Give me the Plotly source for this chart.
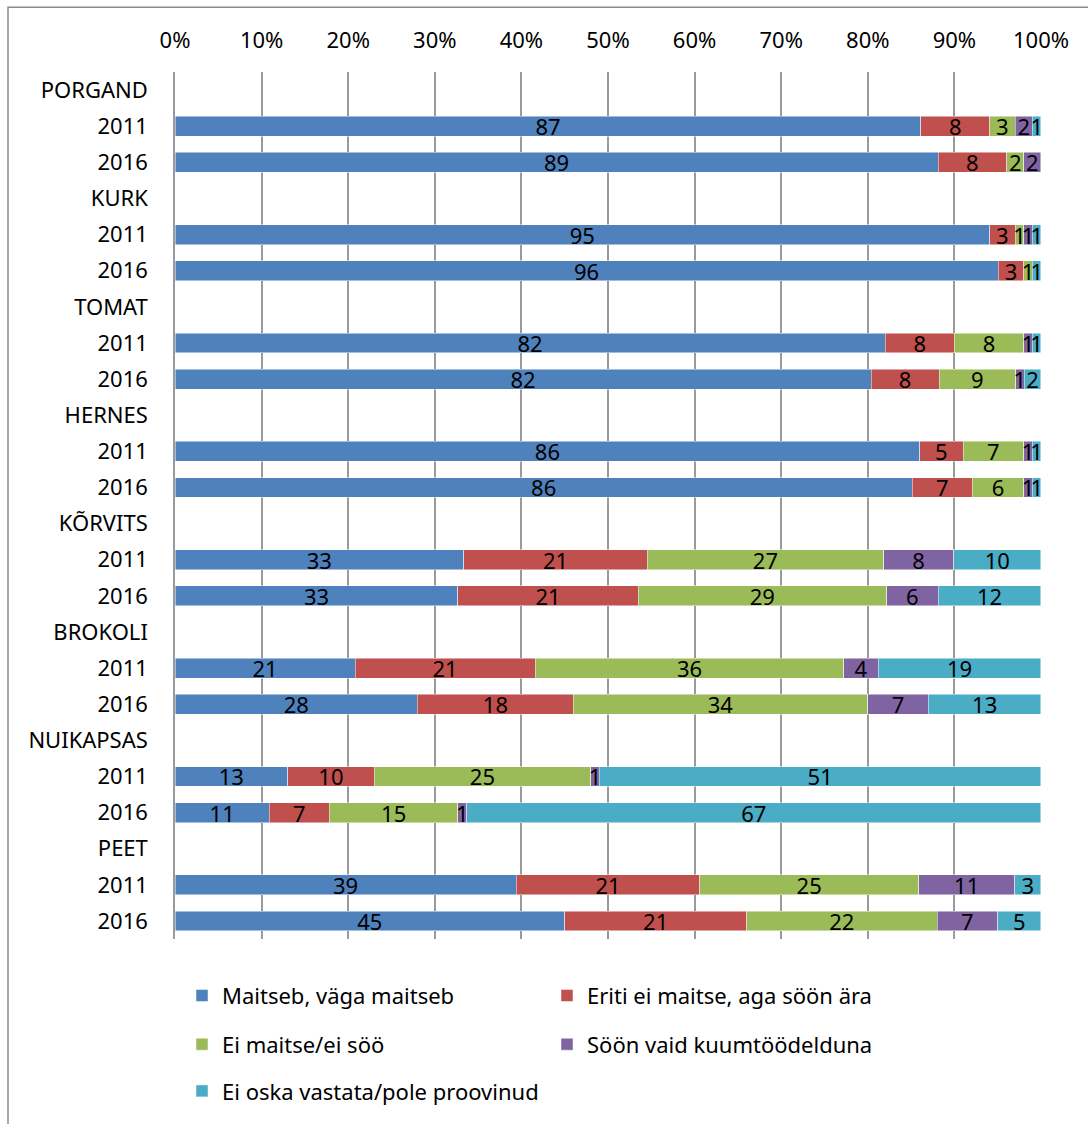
import plotly.graph_objects as go

# Row labels of the category axis (vegetable headings followed by survey years)
row_labels = [
    "PORGAND", "2011", "2016",
    "KURK", "2011", "2016",
    "TOMAT", "2011", "2016",
    "HERNES", "2011", "2016",
    "KÕRVITS", "2011", "2016",
    "BROKOLI", "2011", "2016",
    "NUIKAPSAS", "2011", "2016",
    "PEET", "2011", "2016",
]

series_names = [
    "Maitseb, väga maitseb",
    "Eriti ei maitse, aga söön ära",
    "Ei maitse/ei söö",
    "Söön vaid kuumtöödelduna",
    "Ei oska vastata/pole proovinud",
]

# Shares in percent per row; heading rows carry no values
maitseb = [None, 87, 89, None, 95, 96, None, 82, 82, None, 86, 86,
           None, 33, 33, None, 21, 28, None, 13, 11, None, 39, 45]
eriti_ei = [None, 8, 8, None, 3, 3, None, 8, 8, None, 5, 7,
            None, 21, 21, None, 21, 18, None, 10, 7, None, 21, 21]
ei_maitse = [None, 3, 2, None, 1, 1, None, 8, 9, None, 7, 6,
             None, 27, 29, None, 36, 34, None, 25, 15, None, 25, 22]
kuumtoodeldud = [None, 2, 2, None, 1, None, None, 1, 1, None, 1, 1,
                 None, 8, 6, None, 4, 7, None, 1, 1, None, 11, 7]
ei_oska = [None, 1, None, None, 1, 1, None, 1, 2, None, 1, 1,
           None, 10, 12, None, 19, 13, None, 51, 67, None, 3, 5]

x_ticks = [0, 10, 20, 30, 40, 50, 60, 70, 80, 90, 100]
x_tick_text = [f"{v}%" for v in x_ticks]

colors = ["#4F81BD", "#C0504D", "#9BBB59", "#8064A2", "#4BACC6"]
legend_ids = ["legend", "legend", "legend2", "legend2", "legend3"]

FONT = "Noto Sans"
W, H = 1088, 1124
M_L, M_R, M_T, M_B = 175, 47, 72, 180
PW, PH = W - M_L - M_R, H - M_T - M_B


def px_x(p):
    return (p - M_L) / PW


def px_y(q):
    return (H - M_B - q) / PH


rows = list(range(len(row_labels)))
fig = go.Figure()
for name, vals, col, lg in zip(series_names,
                               [maitseb, eriti_ei, ei_maitse, kuumtoodeldud, ei_oska],
                               colors, legend_ids):
    fig.add_trace(go.Bar(
        name=name,
        y=rows,
        x=vals,
        orientation="h",
        width=0.55,
        marker=dict(color=col, line=dict(color="rgba(255,255,255,0.6)", width=0.8)),
        text=["" if v is None else str(v) for v in vals],
        textposition="inside",
        insidetextanchor="middle",
        textangle=0,
        constraintext="none",
        textfont=dict(family=FONT, size=22, color="black"),
        legend=lg,
        hoverinfo="skip",
        cliponaxis=False,
    ))

legend_common = dict(
    orientation="h",
    xanchor="left",
    yanchor="middle",
    x=px_x(182),
    entrywidth=320,
    entrywidthmode="pixels",
    font=dict(family=FONT, size=22, color="black"),
    bgcolor="rgba(0,0,0,0)",
    traceorder="normal",
)

fig.update_layout(
    width=W,
    height=H,
    margin=dict(l=M_L, r=M_R, t=M_T, b=M_B),
    paper_bgcolor="white",
    plot_bgcolor="white",
    barmode="stack",
    barnorm="percent",
    bargap=0.45,
    uniformtext=dict(minsize=22, mode="show"),
    font=dict(family=FONT, size=22, color="black"),
    legend=dict(legend_common, y=px_y(1001)),
    legend2=dict(legend_common, y=px_y(1050)),
    legend3=dict(legend_common, y=px_y(1097)),
    xaxis=dict(
        side="top",
        range=[0, 100.001],
        tickvals=x_ticks,
        ticktext=x_tick_text,
        showgrid=True,
        gridcolor="#9a9a9a",
        gridwidth=1.5,
        zeroline=False,
        showline=False,
        ticks="",
        ticklabelstandoff=19,
        tickfont=dict(family=FONT, size=22, color="black"),
        fixedrange=True,
    ),
    yaxis=dict(
        range=[len(row_labels) - 0.5, -0.5],
        tickvals=rows,
        ticktext=row_labels,
        showgrid=False,
        zeroline=False,
        showline=True,
        linecolor="#9a9a9a",
        linewidth=1.5,
        ticks="",
        ticklabelstandoff=21,
        tickfont=dict(family=FONT, size=22, color="black"),
        fixedrange=True,
    ),
    shapes=[
        dict(type="rect", xref="paper", yref="paper",
             x0=px_x(8), x1=px_x(W + 20), y0=px_y(H + 20), y1=px_y(7),
             line=dict(color="#8a8a8a", width=1.5), fillcolor="rgba(0,0,0,0)",
             layer="below"),
    ],
)

fig.write_html("out.html")
